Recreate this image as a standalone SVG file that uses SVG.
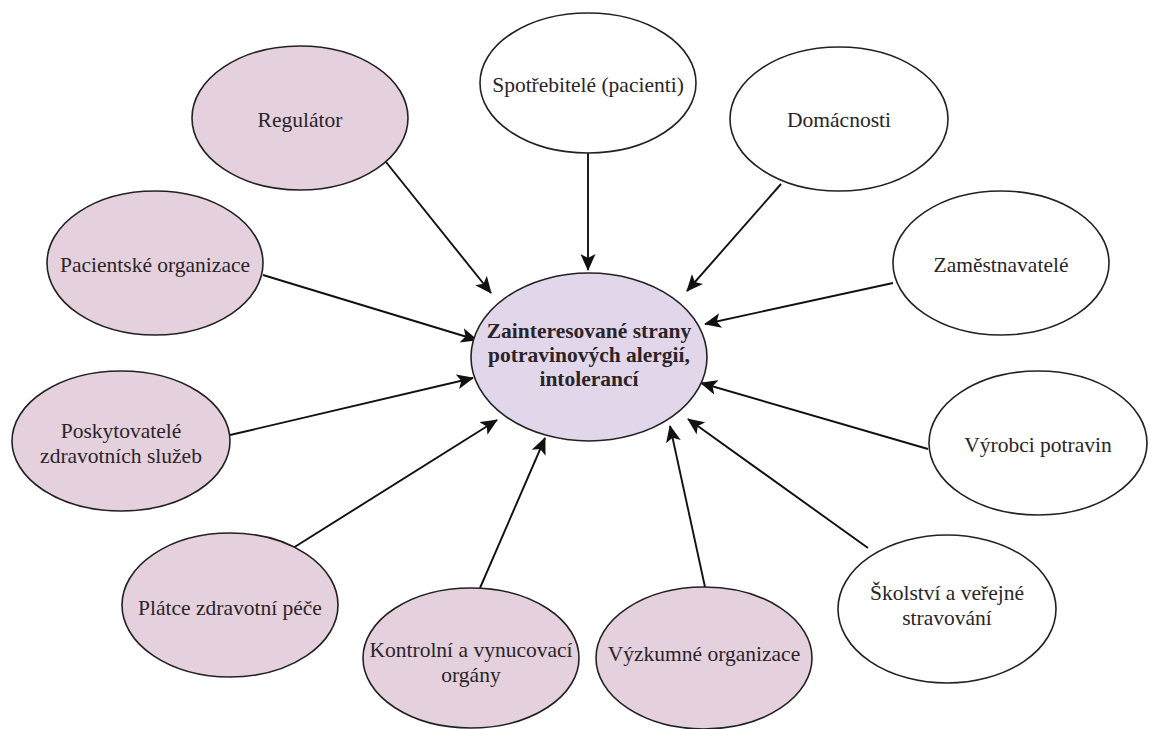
<svg xmlns="http://www.w3.org/2000/svg" width="1149" height="729" viewBox="0 0 1149 729">
<defs>
<marker id="arr" markerUnits="userSpaceOnUse" markerWidth="17" markerHeight="15" refX="16" refY="7.5" orient="auto">
<path d="M0,0 L17,7.5 L0,15 L4,7.5 z" fill="#111"/>
</marker>
<style>
.n{stroke:#222;stroke-width:1.6}
.p{fill:#e5d0dd}
.w{fill:#ffffff}
.c{fill:#e2d6ea}
.t{font-family:'Liberation Serif','Times New Roman',serif;font-size:21.5px;fill:#2a2428;text-anchor:middle}
.b{font-weight:bold;font-size:21.5px}
.e{stroke:#111;stroke-width:1.9;fill:none;marker-end:url(#arr)}
</style>
</defs>
<rect width="1149" height="729" fill="#ffffff"/>
<g id="connectors">
<line class="e" x1="386" y1="162" x2="491" y2="293"/>
<line class="e" x1="588" y1="152" x2="588" y2="270"/>
<line class="e" x1="781" y1="184" x2="687" y2="291"/>
<line class="e" x1="893" y1="283" x2="705" y2="324"/>
<line class="e" x1="928" y1="449" x2="701" y2="383"/>
<line class="e" x1="868" y1="548" x2="688" y2="419"/>
<line class="e" x1="705" y1="587" x2="670" y2="426"/>
<line class="e" x1="480" y1="588" x2="545" y2="438"/>
<line class="e" x1="293" y1="548" x2="497" y2="420"/>
<line class="e" x1="230" y1="435" x2="473" y2="378"/>
<line class="e" x1="263" y1="275" x2="477" y2="340"/>
</g>
<g id="center">
<ellipse class="n c" cx="589" cy="357" rx="118" ry="84"/>
<text class="t b" x="589" y="338">Zainteresované strany</text>
<text class="t b" x="589" y="362">potravinových alergií,</text>
<text class="t b" x="589" y="386">intolerancí</text>
</g>
<g id="regulator">
<ellipse class="n p" cx="300" cy="118" rx="108" ry="72"/>
<text class="t" x="300" y="127">Regulátor</text>
</g>
<g id="spotrebitele">
<ellipse class="n w" cx="588" cy="83" rx="108" ry="70"/>
<text class="t" x="588" y="92">Spotřebitelé (pacienti)</text>
</g>
<g id="domacnosti">
<ellipse class="n w" cx="839" cy="119" rx="109" ry="72"/>
<text class="t" x="839" y="127">Domácnosti</text>
</g>
<g id="zamestnavatele">
<ellipse class="n w" cx="1001" cy="263" rx="108" ry="72"/>
<text class="t" x="1001" y="272">Zaměstnavatelé</text>
</g>
<g id="vyrobci">
<ellipse class="n w" cx="1038" cy="443" rx="109" ry="72"/>
<text class="t" x="1038" y="452">Výrobci potravin</text>
</g>
<g id="skolstvi">
<ellipse class="n w" cx="947" cy="609" rx="109" ry="74"/>
<text class="t" x="947" y="600">Školství a veřejné</text>
<text class="t" x="947" y="625">stravování</text>
</g>
<g id="vyzkumne">
<ellipse class="n p" cx="704" cy="658" rx="108" ry="71"/>
<text class="t" x="704" y="661">Výzkumné organizace</text>
</g>
<g id="kontrolni">
<ellipse class="n p" cx="471" cy="658" rx="108" ry="70"/>
<text class="t" x="471" y="657">Kontrolní a vynucovací</text>
<text class="t" x="471" y="682">orgány</text>
</g>
<g id="platce">
<ellipse class="n p" cx="230" cy="605" rx="108" ry="72"/>
<text class="t" x="230" y="615">Plátce zdravotní péče</text>
</g>
<g id="poskytovatele">
<ellipse class="n p" cx="121" cy="441" rx="109" ry="70"/>
<text class="t" x="121" y="438">Poskytovatelé</text>
<text class="t" x="121" y="463">zdravotních služeb</text>
</g>
<g id="pacientske">
<ellipse class="n p" cx="155" cy="263" rx="108" ry="72"/>
<text class="t" x="155" y="272">Pacientské organizace</text>
</g>
</svg>
